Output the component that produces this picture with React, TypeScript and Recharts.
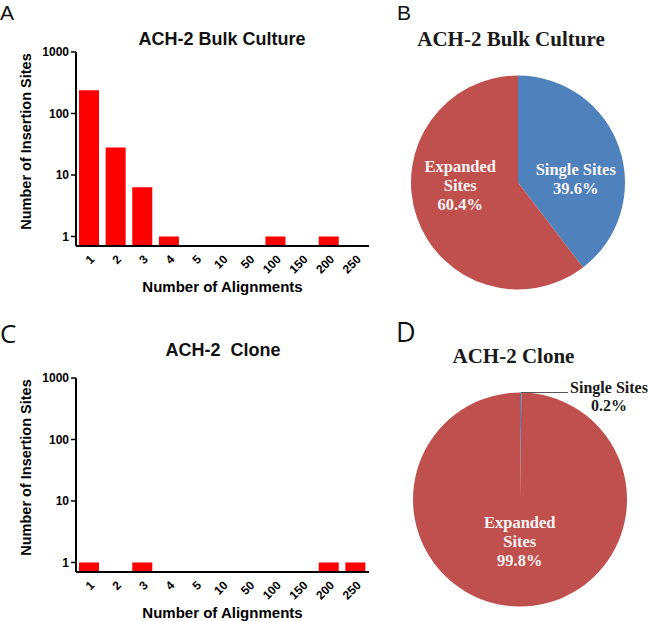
import React from "react";
import { BarChart, Bar, XAxis, YAxis, PieChart, Pie, Cell } from "recharts";

// alignment bins on the x axis of both bar charts
const alignmentBins = ["1", "2", "3", "4", "5", "10", "50", "100", "150", "200", "250"];
// number of insertion sites per bin (null = no bar)
const bulkSiteCounts = [238, 28, 6.3, 1, null, null, null, 1, null, 1, null];
const cloneSiteCounts = [1, null, 1, null, null, null, null, null, null, 1, 1];
const logTicks = [1, 10, 100, 1000];

const siteTypes = ["Single Sites", "Expanded Sites"];
const bulkSharePct = [39.6, 60.4];
const cloneSharePct = [0.2, 99.8];
const sliceColors = ["#4F81BD", "#C0504D"];

const SANS = "'Liberation Sans', Arial, sans-serif";
const SERIF = "'Liberation Serif', 'Times New Roman', serif";
const RADIAN = Math.PI / 180;

function AngledTick(props: any) {
    const { x, y, payload } = props;
    return (
        <g transform={`translate(${x},${y}) rotate(-45)`}>
            <text
                x={0}
                y={0}
                dy="0.71em"
                textAnchor="end"
                fontFamily={SANS}
                fontWeight="bold"
                fontSize={12}
                fill="#000"
            >
                {payload.value}
            </text>
        </g>
    );
}

function SitesBarChart({ counts, top }: { counts: (number | null)[]; top: number }) {
    const data = alignmentBins.map((bin, i) => ({ bin, count: counts[i] }));
    const yLabelX = 26;
    const yLabelY = 52 + 89.5;

    return (
        <div style={{ position: "absolute", left: 0, top }}>
            <BarChart
                width={380}
                height={296}
                data={data}
                margin={{ top: 52, right: 11, bottom: 0, left: 0 }}
            >
                <XAxis
                    dataKey="bin"
                    height={50}
                    interval={0}
                    axisLine={{ stroke: "#000", strokeWidth: 2 }}
                    tickLine={false}
                    tickSize={0}
                    tickMargin={8}
                    tick={<AngledTick />}
                    label={{
                        value: "Number of Alignments",
                        position: "insideBottom",
                        offset: 4,
                        fill: "#000",
                        fontSize: 15,
                        fontWeight: "bold",
                        fontFamily: SANS,
                    }}
                />
                <YAxis
                    type="number"
                    scale="log"
                    domain={[0.7, 1000]}
                    allowDataOverflow
                    ticks={logTicks}
                    width={76}
                    axisLine={{ stroke: "#000", strokeWidth: 2 }}
                    tickLine={{ stroke: "#000", strokeWidth: 1.5 }}
                    tickSize={5}
                    tickMargin={2}
                    tick={{ fill: "#000", fontSize: 12, fontWeight: "bold", fontFamily: SANS }}
                    label={{
                        content: () => (
                            <text
                                x={yLabelX}
                                y={yLabelY}
                                transform={`rotate(-90 ${yLabelX} ${yLabelY})`}
                                textAnchor="middle"
                                dominantBaseline="central"
                                fill="#000"
                                fontSize={14.5}
                                fontWeight="bold"
                                fontFamily={SANS}
                            >
                                Number of Insertion Sites
                            </text>
                        ),
                    }}
                />
                <Bar dataKey="count" fill="#FF0000" barSize={20} isAnimationActive={false} />
            </BarChart>
        </div>
    );
}

const wrappedNames = new Set(["Expanded Sites"]);

function makePieLabel(labelRadius: number, labelSquash: number) {
    return (props: any) => {
        const { cx, cy, midAngle, outerRadius, name, value, percent } = props;
        const pctText = `${Number(value).toFixed(1)}%`;

        if (percent < 0.02) {
            // tiny slice: label outside with a leader line to the right
            const sx = cx + outerRadius * Math.cos(-midAngle * RADIAN);
            const sy = cy + outerRadius * Math.sin(-midAngle * RADIAN);
            const ex = cx + 48;
            return (
                <g>
                    <line x1={sx} y1={sy} x2={ex} y2={sy} stroke="#555" strokeWidth={1.2} />
                    <text
                        x={cx + 89}
                        y={sy + 0.5}
                        textAnchor="middle"
                        fill="#1a1a1a"
                        fontFamily={SERIF}
                        fontWeight="bold"
                        fontSize={16}
                    >
                        <tspan x={cx + 89}>{name}</tspan>
                        <tspan x={cx + 89} dy={18}>{pctText}</tspan>
                    </text>
                </g>
            );
        }

        const lines = wrappedNames.has(name) ? name.split(" ") : [name];
        lines.push(pctText);
        const r = outerRadius * labelRadius;
        const x = cx + r * Math.cos(-midAngle * RADIAN);
        const y = cy + r * Math.sin(-midAngle * RADIAN) * labelSquash;
        const lh = 19;
        const firstBase = y - ((lines.length - 1) * lh) / 2 + 5.3;
        return (
            <text
                textAnchor="middle"
                fill="#F7F4F4"
                fontFamily={SERIF}
                fontWeight="bold"
                fontSize={16.5}
            >
                {lines.map((ln, i) => (
                    <tspan key={i} x={x} y={firstBase + i * lh}>
                        {ln}
                    </tspan>
                ))}
            </text>
        );
    };
}

function SharePie({
    shares,
    left,
    top,
    height,
    cx,
    cy,
    labelRadius,
    labelSquash,
}: {
    shares: number[];
    left: number;
    top: number;
    height: number;
    cx: number;
    cy: number;
    labelRadius: number;
    labelSquash: number;
}) {
    const data = siteTypes.map((name, i) => ({ name, value: shares[i] }));
    return (
        <div style={{ position: "absolute", left, top }}>
            <PieChart width={250} height={height} margin={{ top: 0, right: 0, bottom: 0, left: 0 }}>
                <Pie
                    data={data}
                    dataKey="value"
                    nameKey="name"
                    cx={cx}
                    cy={cy}
                    outerRadius={107}
                    startAngle={90}
                    endAngle={-270}
                    stroke="none"
                    labelLine={false}
                    label={makePieLabel(labelRadius, labelSquash)}
                    isAnimationActive={false}
                >
                    {data.map((d, i) => (
                        <Cell key={d.name} fill={sliceColors[i]} />
                    ))}
                </Pie>
            </PieChart>
        </div>
    );
}

export default function App() {
    return (
        <div
            style={{
                position: "absolute",
                left: 0,
                top: 0,
                width: 650,
                height: 621,
                overflow: "hidden",
                background: "#fff",
            }}
        >
            <SitesBarChart counts={bulkSiteCounts} top={0} />
            <SitesBarChart counts={cloneSiteCounts} top={326} />
            <SharePie shares={bulkSharePct} left={400} top={60} height={250} cx={118} cy={122.5} labelRadius={0.57} labelSquash={0.18} />
            <SharePie shares={cloneSharePct} left={400} top={380} height={241} cx={120} cy={119.5} labelRadius={0.39} labelSquash={1} />

            <svg
                width={650}
                height={621}
                style={{ position: "absolute", left: 0, top: 0, pointerEvents: "none" }}
            >
                <text x={0} y={20} fontFamily={SANS} fontSize={21} fill="#111">A</text>
                <text x={397} y={20} fontFamily={SANS} fontSize={21} fill="#111">B</text>
                <text x={0} y={343} fontFamily="'Open Sans', sans-serif" fontSize={26} fill="#111">C</text>
                <text x={396} y={342} fontFamily="'Open Sans', sans-serif" fontSize={27} fill="#111">D</text>

                <text x={222} y={45} textAnchor="middle" fontFamily={SANS} fontWeight="bold" fontSize={18} fill="#111">
                    ACH-2 Bulk Culture
                </text>
                <text x={223} y={356} textAnchor="middle" fontFamily={SANS} fontWeight="bold" fontSize={18} fill="#111" style={{ whiteSpace: "pre" }}>
                    {"ACH-2  Clone"}
                </text>
                <text x={511} y={46} textAnchor="middle" fontFamily={SERIF} fontWeight="bold" fontSize={21} fill="#1a1a1a">
                    ACH-2 Bulk Culture
                </text>
                <text x={513.5} y={363} textAnchor="middle" fontFamily={SERIF} fontWeight="bold" fontSize={21} fill="#1a1a1a">
                    ACH-2 Clone
                </text>
            </svg>
        </div>
    );
}
